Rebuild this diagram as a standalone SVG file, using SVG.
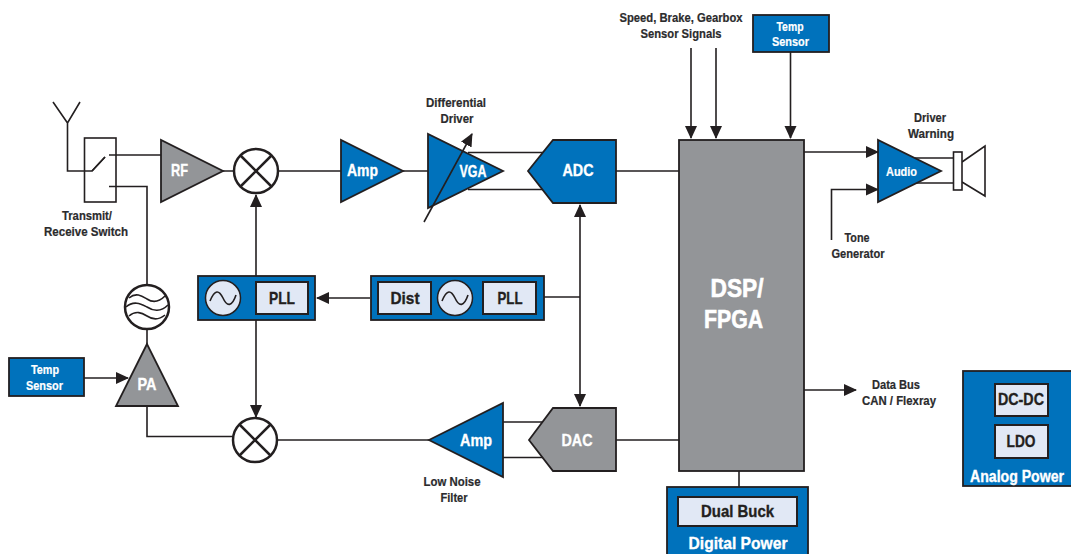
<svg xmlns="http://www.w3.org/2000/svg" width="1071" height="554" viewBox="0 0 1071 554">
<style>
text{font-family:"Liberation Sans Narrow","Liberation Sans",Arial,sans-serif;font-weight:700;text-anchor:middle}
.l{font-size:12px;fill:#2b2b2d;stroke:#2b2b2d;stroke-width:.2}
.w{fill:#fff;font-size:17px;stroke:#fff;stroke-width:.35}
.s{fill:#fff;font-size:12px;stroke:#fff;stroke-width:.2}
.d{fill:#231f20;font-size:17px;stroke:#231f20;stroke-width:.35}
.h{font-size:25px;stroke-width:.6}
.b{fill:#0072bc;stroke:#231f20;stroke-width:1.8}
.g{fill:#939598;stroke:#231f20;stroke-width:1.8}
.p{fill:#e1e8f5;stroke:#231f20;stroke-width:2}
.c{fill:#fff;stroke:#231f20;stroke-width:2.5}
.o{fill:#e1e8f5;stroke:#231f20;stroke-width:1.5}
.n{fill:none;stroke:#231f20;stroke-width:1.6}
.x{fill:none;stroke:#231f20;stroke-width:2.5}
.a{marker-end:url(#ah)}
.aa{marker-start:url(#as);marker-end:url(#ah)}
</style>
<defs>
<marker id="ah" markerUnits="userSpaceOnUse" markerWidth="14" markerHeight="14" viewBox="0 0 14 14" refX="12" refY="7" orient="auto"><path d="M0 1 L13 7 L0 13Z" fill="#231f20"/></marker>
<marker id="as" markerUnits="userSpaceOnUse" markerWidth="14" markerHeight="14" viewBox="0 0 14 14" refX="2" refY="7" orient="auto"><path d="M14 1 L1 7 L14 13Z" fill="#231f20"/></marker>
</defs>
<g id="connectors" class="n">
<path d="M53 102L67.500 123L80 102M67.500 123V171H92L105 157"/>
<path d="M109 155H161M109 186.500H147V285"/>
<path d="M223 171H234M279 171H341M403 171H428"/>
<path d="M147 329V344"/>
<path class="a" d="M256 276V195"/>
<path class="a" d="M256 320V417"/>
<path class="a" d="M370 298H317"/>
<path d="M544 297H580"/>
<path class="aa" d="M580 205V406"/>
<path d="M468 152.500H545M468 189.500H545"/>
<path d="M616 171H679M616 440H679"/>
<path d="M503 422H545M503 457.500H545"/>
<path d="M277 440H430"/>
<path d="M147 406V436.500H233"/>
<path class="a" d="M84 378H128"/>
<path class="a" d="M691 48V138"/>
<path class="a" d="M716 48V138"/>
<path class="a" d="M790.500 52V138"/>
<path class="a" d="M804 152H878"/>
<path class="a" d="M831.500 240V189.500H878"/>
<path d="M915 158H954M915 183H954"/>
<path class="a" d="M804 390H856"/>
<path d="M739 471V487"/>
</g>
<g id="switch"><rect x="84.500" y="138" width="31.500" height="64" fill="none" stroke="#231f20" stroke-width="1.600"/><path class="n" d="M92 171L105 157"/><text class="l" x="87" y="220" textLength="50" lengthAdjust="spacingAndGlyphs">Transmit/</text><text class="l" x="86" y="236" textLength="84" lengthAdjust="spacingAndGlyphs">Receive Switch</text></g>
<g id="rf"><path class="g" d="M161 140V202L223 171Z"/><text class="w" x="179.500" y="176" textLength="17" lengthAdjust="spacingAndGlyphs">RF</text></g>
<g id="mixer1"><circle class="c" cx="256" cy="171" r="22"/><path class="x" d="M240.500 155.500L271.500 186.500M271.500 155.500L240.500 186.500"/></g>
<g id="amp1"><path class="b" d="M341 140V202L403 171Z"/><text class="w" x="362.500" y="176" textLength="31" lengthAdjust="spacingAndGlyphs">Amp</text></g>
<g id="vga"><path class="b" d="M428 134V208L503 171Z"/><text class="w" x="473" y="176.500" style="font-size:16px" textLength="27" lengthAdjust="spacingAndGlyphs">VGA</text><path class="n a" d="M424 222L472 134"/><text class="l" x="456" y="107" textLength="60" lengthAdjust="spacingAndGlyphs">Differential</text><text class="l" x="457" y="123" textLength="33" lengthAdjust="spacingAndGlyphs">Driver</text></g>
<g id="adc"><path class="b" d="M528 171L553 140H616V203H553Z"/><text class="w" x="578" y="176" textLength="31" lengthAdjust="spacingAndGlyphs">ADC</text></g>
<g id="dsp"><rect class="g" x="679" y="140" width="125" height="331"/><text class="w h" x="737" y="297" textLength="53" lengthAdjust="spacingAndGlyphs">DSP/</text><text class="w h" x="733.500" y="328" textLength="59" lengthAdjust="spacingAndGlyphs">FPGA</text></g>
<g id="pll-left"><rect class="b" x="198" y="276" width="117" height="44"/><circle class="o" cx="223" cy="298" r="17.500"/><path class="n" d="M210 301C215 289 219 290 223 298C227 307 232 307 236 295"/><rect class="p" x="256" y="282" width="52" height="32"/><text class="d" x="282" y="304" textLength="26" lengthAdjust="spacingAndGlyphs">PLL</text></g>
<g id="pll-right"><rect class="b" x="371" y="276" width="173" height="44"/><rect class="p" x="378" y="282" width="53" height="32"/><text class="d" x="405" y="304" textLength="29" lengthAdjust="spacingAndGlyphs">Dist</text><circle class="o" cx="455" cy="298" r="17.500"/><path class="n" d="M442 301C447 289 451 290 455 298C459 307 464 307 468 295"/><rect class="p" x="483" y="282" width="53" height="32"/><text class="d" x="510" y="304" textLength="25" lengthAdjust="spacingAndGlyphs">PLL</text></g>
<g id="filter"><circle class="c" cx="147" cy="307" r="22"/><path class="n" d="M129 298C136 292 142 296 147 299C153 303 159 302 165 296M126 307C134 300 141 304 147 307C153 311 161 312 168 305M129 316C136 310 142 313 147 316C153 320 159 320 165 315"/></g>
<g id="pa"><path class="g" d="M147 344L116 406H178Z"/><text class="w" x="147" y="390" textLength="19" lengthAdjust="spacingAndGlyphs">PA</text></g>
<g id="temp-left"><rect class="b" x="9" y="358" width="75" height="38"/><text class="s" x="45" y="374" textLength="28" lengthAdjust="spacingAndGlyphs">Temp</text><text class="s" x="44.500" y="390" textLength="37" lengthAdjust="spacingAndGlyphs">Sensor</text></g>
<g id="mixer2"><circle class="c" cx="255" cy="440" r="22"/><path class="x" d="M239.500 424.500L270.500 455.500M270.500 424.500L239.500 455.500"/></g>
<g id="amp2"><path class="b" d="M429 440L503 403V477Z"/><text class="w" x="476" y="446" textLength="32" lengthAdjust="spacingAndGlyphs">Amp</text><text class="l" x="452" y="486" textLength="57" lengthAdjust="spacingAndGlyphs">Low Noise</text><text class="l" x="454" y="502" textLength="27" lengthAdjust="spacingAndGlyphs">Filter</text></g>
<g id="dac"><path class="g" d="M529 440L553 408H616V471H553Z"/><text class="w" x="577" y="446" textLength="31" lengthAdjust="spacingAndGlyphs">DAC</text></g>
<g id="sensors-label"><text class="l" x="681" y="22" textLength="123" lengthAdjust="spacingAndGlyphs">Speed, Brake, Gearbox</text><text class="l" x="681" y="38" textLength="81" lengthAdjust="spacingAndGlyphs">Sensor Signals</text></g>
<g id="temp-top"><rect class="b" x="753" y="15" width="76" height="37"/><text class="s" x="790" y="31" textLength="27" lengthAdjust="spacingAndGlyphs">Temp</text><text class="s" x="790.500" y="46" textLength="37" lengthAdjust="spacingAndGlyphs">Sensor</text></g>
<g id="speaker"><path d="M962 162L985 146V196L962 182" fill="none" stroke="#231f20" stroke-width="1.600"/><rect x="953.500" y="152" width="8.500" height="38" fill="#fff" stroke="#231f20" stroke-width="1.600"/></g>
<g id="audio"><path class="b" d="M878 140V202L941 171Z"/><text class="s" x="901.500" y="175.500" style="font-size:13px" textLength="31" lengthAdjust="spacingAndGlyphs">Audio</text><text class="l" x="930" y="122" textLength="32" lengthAdjust="spacingAndGlyphs">Driver</text><text class="l" x="931" y="138" textLength="46" lengthAdjust="spacingAndGlyphs">Warning</text></g>
<g id="tone"><text class="l" x="857" y="242" textLength="25" lengthAdjust="spacingAndGlyphs">Tone</text><text class="l" x="858" y="258" textLength="53" lengthAdjust="spacingAndGlyphs">Generator</text></g>
<g id="databus"><text class="l" x="896" y="389" textLength="48" lengthAdjust="spacingAndGlyphs">Data Bus</text><text class="l" x="899" y="405" textLength="74" lengthAdjust="spacingAndGlyphs">CAN / Flexray</text></g>
<g id="digital-power"><rect class="b" x="667" y="487" width="141" height="70"/><rect class="p" x="678" y="497" width="119" height="29"/><text class="d" x="737.500" y="517" textLength="73" lengthAdjust="spacingAndGlyphs">Dual Buck</text><text class="w" x="738" y="549" textLength="99" lengthAdjust="spacingAndGlyphs">Digital Power</text></g>
<g id="analog-power"><rect class="b" x="963" y="371" width="110" height="115"/><rect class="p" x="995" y="384" width="53" height="32"/><text class="d" x="1021" y="405" textLength="46" lengthAdjust="spacingAndGlyphs">DC-DC</text><rect class="p" x="995" y="425" width="53" height="33"/><text class="d" x="1021" y="447" textLength="29" lengthAdjust="spacingAndGlyphs">LDO</text><text class="w" x="1017" y="482" style="font-size:16px" textLength="94" lengthAdjust="spacingAndGlyphs">Analog Power</text></g>
</svg>
